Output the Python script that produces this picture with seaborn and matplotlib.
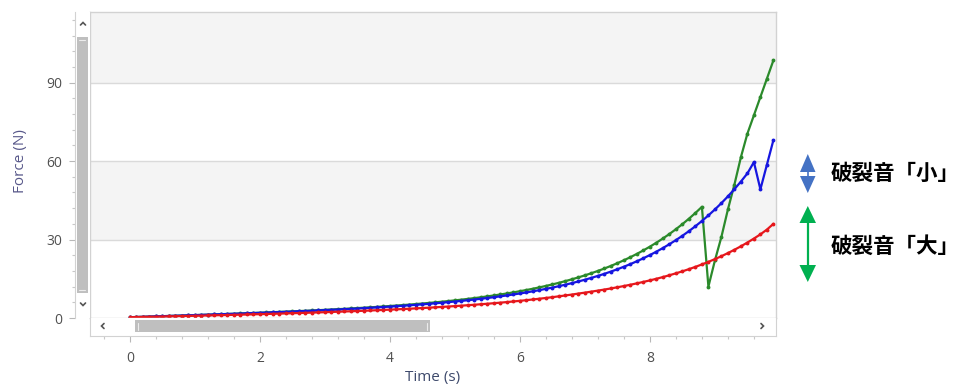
import numpy as np
import pandas as pd
import matplotlib
matplotlib.use('Agg')
import matplotlib.pyplot as plt
import seaborn as sns
from matplotlib.ticker import MultipleLocator
from matplotlib.patches import Rectangle, Polygon

# sampling every 0.1 s
time_s = np.round(np.arange(100) * 0.1, 1)

force_red = [
    0.30, 0.35, 0.41, 0.46, 0.51, 0.57, 0.62, 0.68, 0.74, 0.79,
    0.85, 0.91, 0.97, 1.03, 1.09, 1.15, 1.21, 1.28, 1.34, 1.41,
    1.47, 1.54, 1.61, 1.68, 1.75, 1.83, 1.90, 1.98, 2.06, 2.14,
    2.22, 2.31, 2.40, 2.49, 2.58, 2.67, 2.77, 2.87, 2.98, 3.09,
    3.20, 3.31, 3.43, 3.55, 3.68, 3.81, 3.95, 4.09, 4.24, 4.39,
    4.55, 4.72, 4.89, 5.07, 5.26, 5.45, 5.66, 5.87, 6.09, 6.32,
    6.57, 6.82, 7.09, 7.37, 7.66, 7.96, 8.29, 8.62, 8.97, 9.34,
    9.70, 10.08, 10.47, 10.88, 11.30, 11.75, 12.22, 12.72, 13.25, 13.80,
    14.38, 15.00, 15.65, 16.35, 17.08, 17.85, 18.67, 19.55, 20.48, 21.47,
    22.52, 23.63, 24.82, 26.08, 27.42, 28.85, 30.37, 31.98, 33.80, 36.00,
]

force_blue = [
    0.30, 0.38, 0.45, 0.53, 0.61, 0.69, 0.77, 0.85, 0.93, 1.01,
    1.09, 1.18, 1.26, 1.34, 1.43, 1.52, 1.60, 1.69, 1.78, 1.88,
    1.97, 2.06, 2.16, 2.26, 2.36, 2.46, 2.57, 2.67, 2.78, 2.89,
    3.01, 3.13, 3.25, 3.37, 3.50, 3.63, 3.77, 3.91, 4.05, 4.20,
    4.36, 4.52, 4.68, 4.86, 5.04, 5.23, 5.42, 5.63, 5.84, 6.07,
    6.30, 6.54, 6.80, 7.07, 7.35, 7.65, 7.96, 8.29, 8.63, 9.00,
    9.38, 9.78, 10.21, 10.66, 11.14, 11.64, 12.17, 12.74, 13.34, 13.97,
    14.64, 15.35, 16.10, 16.90, 17.75, 18.65, 19.61, 20.62, 21.70, 22.85,
    24.07, 25.37, 26.75, 28.22, 29.78, 31.44, 33.21, 35.09, 37.09, 39.23,
    41.50, 43.92, 46.50, 49.25, 52.17, 55.29, 59.60, 49.20, 58.60, 68.00,
]

force_green = [
    0.30, 0.38, 0.45, 0.53, 0.62, 0.70, 0.78, 0.86, 0.94, 1.02,
    1.11, 1.20, 1.28, 1.36, 1.46, 1.55, 1.63, 1.73, 1.82, 1.92,
    2.02, 2.11, 2.22, 2.32, 2.43, 2.53, 2.65, 2.76, 2.87, 2.99,
    3.12, 3.25, 3.38, 3.50, 3.64, 3.79, 3.94, 4.09, 4.24, 4.41,
    4.58, 4.76, 4.94, 5.13, 5.33, 5.54, 5.76, 5.99, 6.23, 6.48,
    6.74, 7.01, 7.31, 7.61, 7.93, 8.27, 8.62, 9.00, 9.38, 9.81,
    10.24, 10.70, 11.19, 11.71, 12.26, 12.84, 13.45, 14.11, 14.80, 15.53,
    16.31, 17.13, 18.00, 18.93, 19.92, 20.96, 22.08, 23.26, 24.52, 25.86,
    27.28, 28.80, 30.41, 32.12, 33.95, 35.89, 37.96, 40.16, 42.50, 12.00,
    22.00, 31.00, 41.50, 51.00, 61.50, 70.50, 77.50, 84.50, 91.50, 98.50,
]

series_names = ['green', 'blue', 'red']
series_colors = {'green': '#2b8a2b', 'blue': '#1616e0', 'red': '#e6171c'}

df = pd.DataFrame({
    'Time': np.tile(time_s, 3),
    'Force': force_green + force_blue + force_red,
    'series': np.repeat(series_names, len(time_s)),
})

sns.set_style('white')
plt.rcParams['font.family'] = ['Open Sans', 'DejaVu Sans']

W, H = 962, 387
fig = plt.figure(figsize=(W / 100, H / 100), dpi=100)


def box(l, t, r, b):
    # pixel box -> figure fraction
    return [l / W, 1 - b / H, (r - l) / W, (b - t) / H]


x_range = (-0.615, 9.94)
y_range = (0, 117)
frame_col = '#d2d2d2'
text_col = '#505050'

# main plot
ax = fig.add_axes(box(90, 12, 776, 318))
ax.set_xlim(*x_range)
ax.set_ylim(*y_range)
for lo, hi in [(30, 60), (90, 117)]:
    ax.axhspan(lo, hi, color='#f4f4f4', lw=0, zorder=0)
for y in [30, 60, 90]:
    ax.axhline(y, color='#dadada', lw=1, zorder=1)

sns.lineplot(data=df, x='Time', y='Force', hue='series', hue_order=series_names,
             palette=series_colors, marker='o', markersize=2.8, markeredgewidth=0,
             linewidth=1.6, estimator=None, sort=False, legend=False, ax=ax)
ax.set_xlabel('')
ax.set_ylabel('')
ax.set_xticks([])
ax.set_yticks([])
for s in ax.spines.values():
    s.set_color(frame_col)
    s.set_linewidth(1)

# vertical scroll strip carrying the y ticks
ax_v = fig.add_axes(box(75, 12, 90, 318))
ax_v.set_ylim(*y_range)
ax_v.set_xlim(0, 1)
ax_v.set_xticks([])
ax_v.yaxis.set_major_locator(MultipleLocator(30))
ax_v.yaxis.set_minor_locator(MultipleLocator(6))
ax_v.tick_params(axis='y', which='major', left=True, length=4, width=0.8, color='#b8b8b8',
                 labelsize=10, labelcolor=text_col, pad=5)
ax_v.tick_params(axis='y', which='minor', left=True, length=2, width=0.8, color='#c8c8c8')
for name, s in ax_v.spines.items():
    s.set_visible(name == 'left')
    s.set_color(frame_col)

# horizontal scroll strip carrying the x ticks
ax_h = fig.add_axes(box(90, 318, 776, 336))
ax_h.set_xlim(*x_range)
ax_h.set_ylim(0, 1)
ax_h.set_yticks([])
ax_h.xaxis.set_major_locator(MultipleLocator(2))
ax_h.xaxis.set_minor_locator(MultipleLocator(0.4))
ax_h.tick_params(axis='x', which='major', bottom=True, length=4, width=0.8, color='#b8b8b8',
                 labelsize=10, labelcolor=text_col, pad=7)
ax_h.tick_params(axis='x', which='minor', bottom=True, length=2, width=0.8, color='#c8c8c8')
for name, s in ax_h.spines.items():
    s.set_visible(name != 'top')
    s.set_color(frame_col)

# overlay in pixel coordinates for scrollbars, labels and arrows
ov = fig.add_axes([0, 0, 1, 1])
ov.set_xlim(0, W)
ov.set_ylim(H, 0)
ov.axis('off')
ov.patch.set_alpha(0)

thumb_col = '#bfbfbf'
ov.add_patch(Rectangle((77, 37), 11, 256, color=thumb_col, lw=0))
ov.add_patch(Rectangle((135, 320), 295, 12, color=thumb_col, lw=0))
ov.plot([79.5, 85.5], [40, 40], color='#ececec', lw=0.8)
ov.plot([79.5, 85.5], [290, 290], color='#ececec', lw=0.8)
ov.plot([138, 138], [322.5, 329.5], color='#ececec', lw=0.8)
ov.plot([427, 427], [322.5, 329.5], color='#ececec', lw=0.8)

chev = dict(color='#555555', lw=1.2, solid_capstyle='round', solid_joinstyle='miter')
ov.plot([80.5, 83, 85.5], [25, 22.5, 25], **chev)
ov.plot([80.5, 83, 85.5], [303, 305.5, 303], **chev)
ov.plot([104, 101.5, 104], [323.5, 326, 328.5], **chev)
ov.plot([761, 763.5, 761], [323.5, 326, 328.5], **chev)

ov.text(21, 161, 'Force (N)', rotation=90, ha='center', va='center',
        fontsize=11, color='#58588a')
ov.text(433, 378, 'Time (s)', ha='center', va='center', fontsize=11, color='#3e4a6c')

# annotation arrows
blue_a = '#4472c4'
ov.add_patch(Polygon([(800, 172), (815.5, 172), (807.8, 154)], color=blue_a, lw=0))
ov.plot([807.8, 807.8], [171, 176], color=blue_a, lw=1.2)
ov.add_patch(Polygon([(800, 176), (815.5, 176), (807.8, 193)], color=blue_a, lw=0))

green_a = '#00b050'
ov.add_patch(Polygon([(799.5, 223), (816, 223), (807.8, 206)], color=green_a, lw=0))
ov.plot([807.8, 807.8], [222, 266], color=green_a, lw=1.6)
ov.add_patch(Polygon([(799.5, 265), (816, 265), (807.8, 282)], color=green_a, lw=0))

cjk = ['Noto Sans CJK JP', 'DejaVu Sans']
ov.text(831, 173, '破裂音「小」', ha='left', va='center', fontsize=15.5,
        fontweight='bold', family=cjk, color='black')
ov.text(831, 246, '破裂音「大」', ha='left', va='center', fontsize=15.5,
        fontweight='bold', family=cjk, color='black')

fig.savefig('out.png', dpi=100)
